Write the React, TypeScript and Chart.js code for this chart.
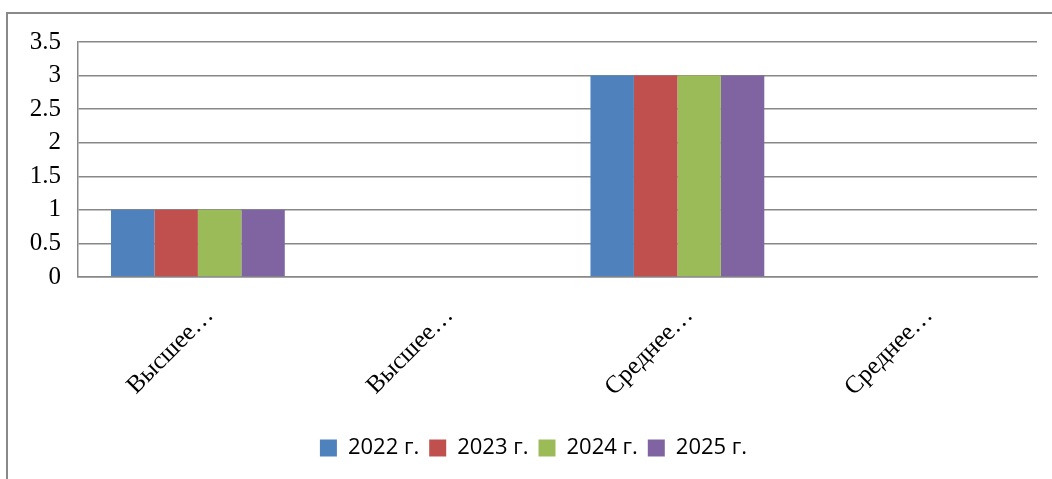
import React, { useEffect, useRef } from 'react';
import { Chart, registerables } from 'chart.js';

Chart.register(...registerables);

const categories = ['Высшее…', 'Высшее…', 'Среднее…', 'Среднее…'];
const seriesNames = ['2022 г.', '2023 г.', '2024 г.', '2025 г.'];
const values2022 = [1, 0, 3, 0];
const values2023 = [1, 0, 3, 0];
const values2024 = [1, 0, 3, 0];
const values2025 = [1, 0, 3, 0];
const colors = ['#4F81BD', '#C0504D', '#9BBB59', '#8064A2'];

const serif = '"Liberation Serif", "Times New Roman", serif';

const App: React.FC = () => {
  const canvasRef = useRef<HTMLCanvasElement | null>(null);

  useEffect(() => {
    if (!canvasRef.current) return;
    const series = [values2022, values2023, values2024, values2025];
    const chart = new Chart(canvasRef.current, {
      type: 'bar',
      data: {
        labels: categories,
        datasets: series.map((data, i) => ({
          label: seriesNames[i],
          data,
          backgroundColor: colors[i],
          borderWidth: 0,
          categoryPercentage: 0.725,
          barPercentage: 1,
        })),
      },
      options: {
        animation: false,
        responsive: false,
        devicePixelRatio: 1,
        layout: { padding: { top: 42, right: 15, bottom: 10, left: 30 } },
        scales: {
          x: {
            grid: { display: false, drawTicks: false },
            border: { display: true, color: '#888888', width: 1.5 },
            ticks: {
              color: '#000',
              font: { family: serif, size: 25 },
              minRotation: 45,
              maxRotation: 45,
              padding: 24,
              labelOffset: 12,
              autoSkip: false,
            },
            afterFit: (scale: any) => {
              scale.height = 150;
            },
          },
          y: {
            min: 0,
            max: 3.5,
            grid: { color: '#888888', lineWidth: 1.5, drawTicks: false },
            border: { display: true, color: '#888888', width: 1.5 },
            ticks: {
              stepSize: 0.5,
              color: '#000',
              padding: 17,
              font: { family: serif, size: 25 },
              callback: (v: any) => String(Number(v)),
            },
            afterFit: (scale: any) => {
              scale.width = 48;
            },
          },
        },
        plugins: {
          legend: {
            position: 'bottom',
            labels: {
              color: '#000',
              boxWidth: 17,
              boxHeight: 17,
              padding: 10,
              font: { family: '"Open Sans", "Noto Sans", sans-serif', size: 22 },
            },
          },
          tooltip: { enabled: false },
        },
      },
    });
    return () => {
      chart.destroy();
    };
  }, []);

  return (
    <div style={{ position: 'fixed', left: 0, top: 0, width: 1052, height: 479, background: '#fff' }}>
      <div
        style={{
          position: 'absolute',
          left: 6,
          top: 12,
          width: 1060,
          height: 480,
          border: '2px solid #898989',
        }}
      />
      <canvas ref={canvasRef} width={1052} height={479} style={{ position: 'absolute', left: 0, top: 0 }} />
    </div>
  );
};

export default App;
